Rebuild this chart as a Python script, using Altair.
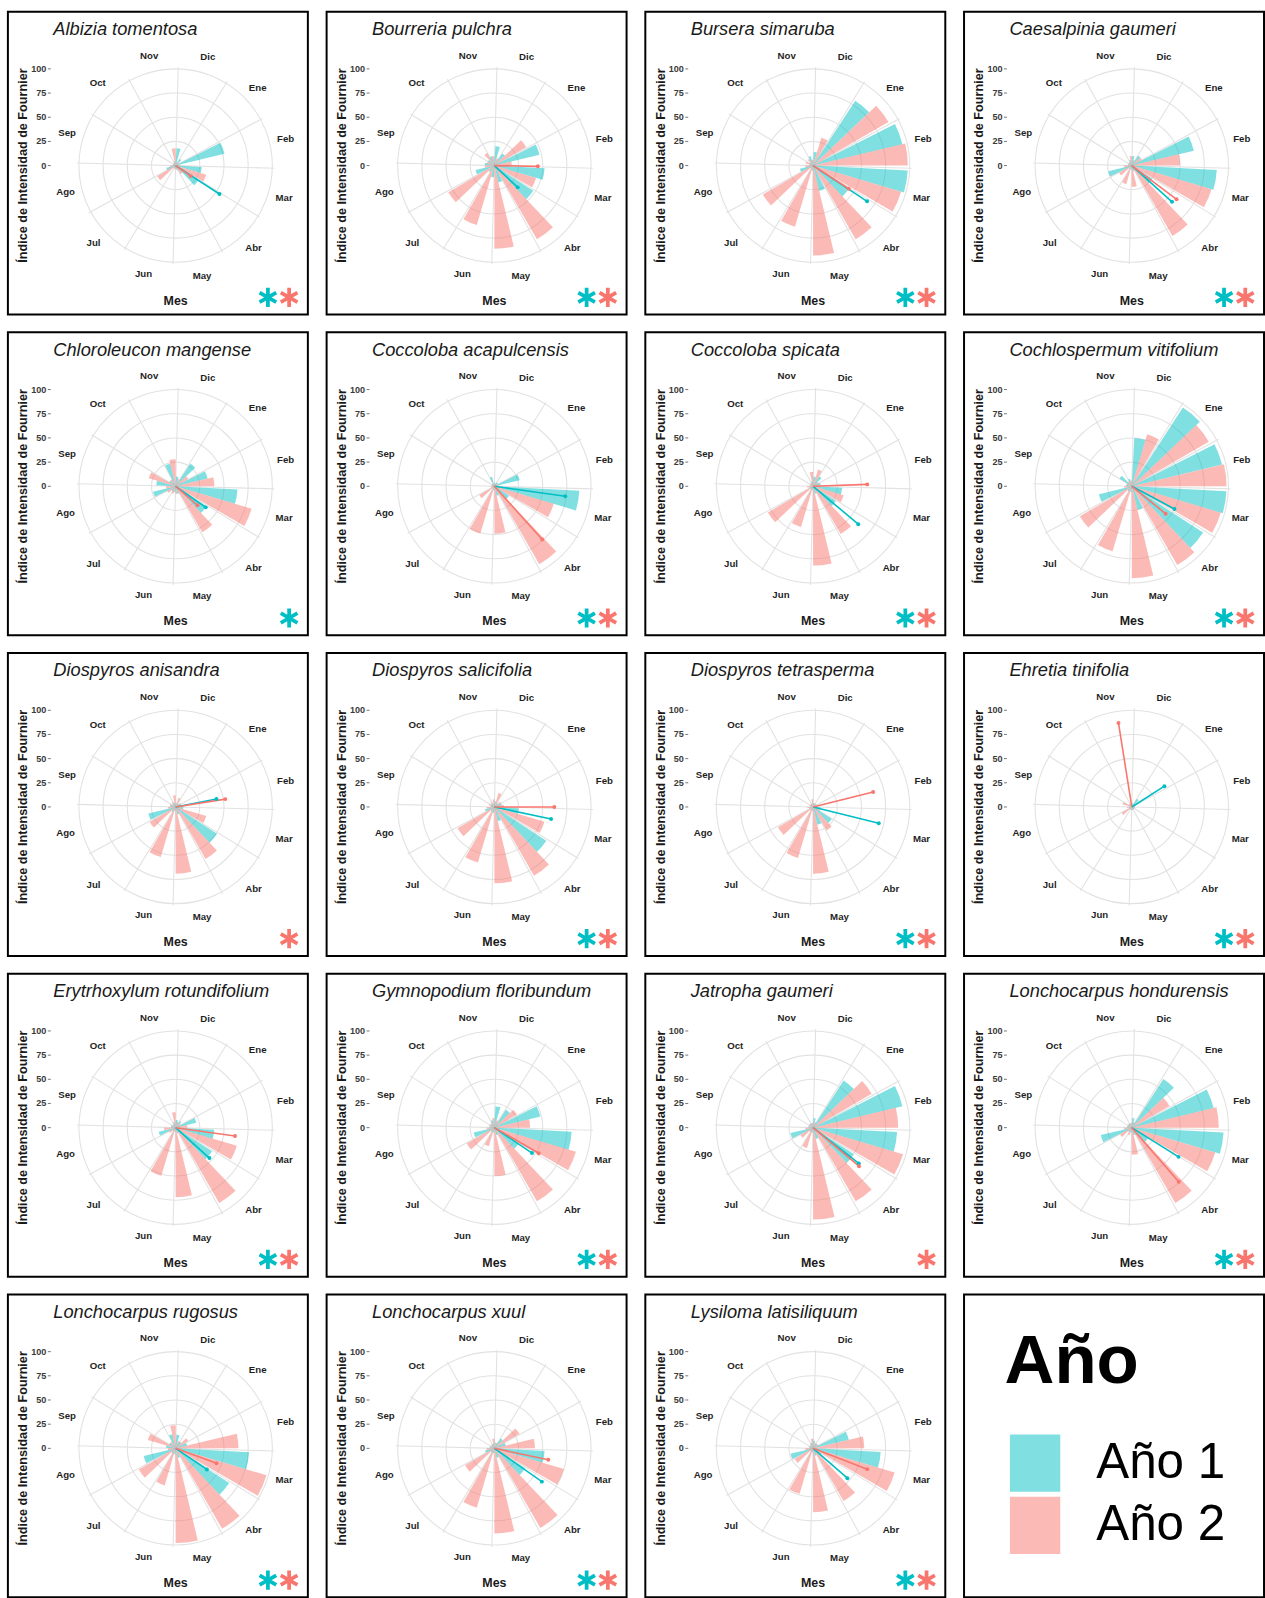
import math
import altair as alt
import pandas as pd

# ---------------- data ----------------
MESES = ["Ene", "Feb", "Mar", "Abr", "May", "Jun", "Jul", "Ago", "Sep", "Oct", "Nov", "Dic"]
ANIOS = ["Año 1", "Año 2"]
TICKS_RADIALES = [0, 25, 50, 75, 100]

ESPECIES = [
    "Albizia tomentosa", "Bourreria pulchra", "Bursera simaruba", "Caesalpinia gaumeri",
    "Chloroleucon mangense", "Coccoloba acapulcensis", "Coccoloba spicata", "Cochlospermum vitifolium",
    "Diospyros anisandra", "Diospyros salicifolia", "Diospyros tetrasperma", "Ehretia tinifolia",
    "Erytrhoxylum rotundifolium", "Gymnopodium floribundum", "Jatropha gaumeri", "Lonchocarpus hondurensis",
    "Lonchocarpus rugosus", "Lonchocarpus xuul", "Lysiloma latisiliquum",
]

# Fournier intensity index per month (Ene..Dic), year 1
FOURNIER_ANIO1 = [
    [8, 52, 27, 28, 5, 3, 3, 10, 3, 3, 5, 18],
    [15, 48, 52, 48, 18, 12, 8, 20, 10, 8, 10, 20],
    [80, 95, 98, 44, 27, 5, 4, 14, 4, 4, 10, 14],
    [12, 66, 88, 25, 6, 4, 4, 25, 4, 4, 6, 10],
    [28, 34, 64, 38, 8, 6, 6, 24, 20, 8, 24, 10],
    [5, 27, 88, 18, 10, 4, 3, 3, 3, 3, 10, 4],
    [12, 8, 30, 28, 8, 4, 4, 4, 3, 3, 5, 10],
    [97, 96, 98, 88, 25, 6, 6, 35, 6, 15, 8, 50],
    [4, 6, 8, 51, 8, 4, 6, 29, 6, 4, 5, 4],
    [5, 8, 25, 64, 15, 6, 5, 10, 4, 4, 4, 6],
    [4, 4, 8, 23, 19, 4, 4, 4, 3, 3, 3, 4],
    [10, 4, 3, 3, 3, 3, 3, 3, 3, 3, 3, 4],
    [8, 22, 40, 45, 6, 4, 4, 18, 5, 4, 6, 8],
    [22, 49, 80, 30, 8, 5, 5, 22, 5, 5, 8, 22],
    [58, 95, 87, 50, 12, 5, 5, 24, 5, 5, 5, 10],
    [60, 87, 95, 20, 8, 5, 5, 33, 5, 5, 5, 10],
    [8, 12, 76, 66, 10, 6, 6, 34, 10, 8, 15, 14],
    [12, 12, 52, 38, 10, 5, 5, 10, 5, 4, 5, 6],
    [6, 38, 70, 10, 8, 4, 4, 24, 4, 4, 6, 8],
]

# Fournier intensity index per month (Ene..Dic), year 2
FOURNIER_ANIO2 = [
    [4, 5, 33, 10, 4, 4, 22, 6, 3, 3, 18, 4],
    [38, 18, 45, 88, 86, 64, 55, 10, 8, 15, 10, 8],
    [90, 98, 95, 88, 93, 66, 60, 8, 8, 8, 6, 30],
    [12, 50, 86, 84, 22, 20, 15, 8, 4, 4, 10, 6],
    [15, 40, 82, 55, 8, 8, 10, 10, 29, 8, 28, 8],
    [4, 5, 64, 93, 49, 51, 18, 4, 3, 3, 3, 3],
    [6, 8, 33, 57, 82, 44, 54, 6, 4, 4, 15, 18],
    [92, 98, 96, 94, 95, 70, 62, 8, 6, 6, 6, 56],
    [6, 8, 33, 62, 69, 54, 31, 8, 6, 6, 12, 10],
    [8, 10, 54, 82, 79, 60, 44, 8, 6, 6, 8, 15],
    [4, 4, 8, 28, 69, 55, 42, 6, 4, 4, 8, 4],
    [3, 3, 3, 3, 3, 3, 12, 5, 10, 4, 4, 3],
    [6, 12, 66, 90, 72, 52, 8, 12, 5, 4, 16, 6],
    [27, 37, 88, 88, 50, 20, 33, 8, 6, 6, 10, 8],
    [70, 88, 97, 88, 95, 22, 15, 8, 5, 5, 5, 6],
    [45, 90, 90, 90, 28, 8, 14, 8, 5, 5, 5, 6],
    [15, 65, 98, 96, 98, 40, 44, 8, 30, 8, 24, 8],
    [30, 42, 75, 95, 88, 64, 35, 8, 5, 5, 10, 6],
    [6, 53, 88, 63, 66, 49, 22, 8, 5, 5, 10, 6],
]

# mean vectors (angle in degrees clockwise from top, magnitude in index units)
VECTOR_ANGULO_ANIO1 = [123, 133, 123.5, 132, 125, 98, 130, 118, 79, 102, 104, 57.5,
                       132, 124, 128, 122, 124, 125, 131]
VECTOR_MAGNITUD_ANIO1 = [54, 33, 67, 56, 38, 74, 61, 50, 43, 60, 70, 40,
                         47, 47, 60, 57, 39, 60, 47]
VECTOR_ANGULO_ANIO2 = [125, 91, 123, 127, 131, 138, 88, 129, 81, 90, 76, 351,
                       98, 120, 130, 139, 110, 102, 111]
VECTOR_MAGNITUD_ANIO2 = [19, 45, 44, 58, 30, 74, 56, 45, 52, 62, 64, 88,
                         62, 53, 62, 74, 45, 57, 60]

# years with a significant mean vector (asterisks)
SIGNIFICATIVO = [
    ["Año 1", "Año 2"], ["Año 1", "Año 2"], ["Año 1", "Año 2"], ["Año 1", "Año 2"],
    ["Año 1"], ["Año 1", "Año 2"], ["Año 1", "Año 2"], ["Año 1", "Año 2"],
    ["Año 2"], ["Año 1", "Año 2"], ["Año 1", "Año 2"], ["Año 1", "Año 2"],
    ["Año 1", "Año 2"], ["Año 1", "Año 2"], ["Año 2"], ["Año 1", "Año 2"],
    ["Año 1", "Año 2"], ["Año 1", "Año 2"], ["Año 1", "Año 2"],
]

# ---------------- geometry / style ----------------
FONT = "Liberation Sans"
PX = 0.98                 # pixels per index unit
W, H = 304, 307           # panel size
CX, CY = 170, 156         # polar centre inside the panel (px)
GRID = "#E2E2E2"
OFFSET = 46.5             # centre angle of Ene (deg)
BAR_W = 13.5              # angular width of one bar (deg)
LABEL_R = 117             # radius of month labels (index units)


def U(px):
    return px / PX


xs = alt.Scale(domain=[-U(CX), U(W - CX)], nice=False, zero=False)
ys = alt.Scale(domain=[-U(H - CY), U(CY)], nice=False, zero=False)
ts = alt.Scale(domain=[0, 360], range=[0, 2 * math.pi])
rs = alt.Scale(type="linear", domain=[0, 100], range=[0, 100 * PX], zero=True, nice=False)
cs = alt.Scale(domain=ANIOS, range=["#00BFC4", "#F8766D"])

LEG = alt.Legend(title="Año", symbolType="M-0.88,-1H0.88V1H-0.88Z", symbolOpacity=0.5)


def xf(name):
    return alt.X(f"{name}:Q", scale=xs, axis=None)


def yf(name):
    return alt.Y(f"{name}:Q", scale=ys, axis=None)


COL = alt.Color("anio:N", scale=cs, legend=LEG)
ASTER = "M0,-1L0,1M-0.866,-0.5L0.866,0.5M-0.866,0.5L0.866,-0.5"


def panel(k):
    sp = ESPECIES[k]
    meses_df = pd.DataFrame({"mes": MESES, "i": list(range(12))})

    rings = alt.Chart(pd.DataFrame({"r": TICKS_RADIALES[1:]})).transform_calculate(
        o="0").mark_arc(
        filled=False, color=GRID, strokeWidth=1.1, theta=0, theta2=2 * math.pi
    ).encode(x=xf("o"), y=yf("o"), radius=alt.Radius("r:Q", scale=rs, stack=None))

    spokes = alt.Chart(meses_df).transform_calculate(
        o="0",
        a=f"({OFFSET - 15} + 30*datum.i) * PI / 180",
        sx="102*sin(datum.a)", sy="102*cos(datum.a)",
    ).mark_rule(color=GRID, strokeWidth=1.1).encode(
        x=xf("o"), y=yf("o"), x2="sx:Q", y2="sy:Q")

    bars_df = pd.DataFrame({
        "mes": MESES * 2,
        "i": list(range(12)) * 2,
        "anio": [ANIOS[0]] * 12 + [ANIOS[1]] * 12,
        "valor": FOURNIER_ANIO1[k] + FOURNIER_ANIO2[k],
    })
    bars = alt.Chart(bars_df).transform_calculate(
        o="0",
        c=f"({OFFSET} + 30*datum.i) % 360",
        t0=f"datum.anio == 'Año 1' ? datum.c - {BAR_W} : datum.c",
        t1=f"datum.t0 + {BAR_W}",
    ).mark_arc(opacity=0.5).encode(
        x=xf("o"), y=yf("o"),
        theta=alt.Theta("t0:Q", scale=ts, stack=None),
        theta2="t1:Q",
        radius=alt.Radius("valor:Q", scale=rs, stack=None),
        color=COL,
    )

    vec_df = pd.DataFrame({
        "anio": ANIOS,
        "ang": [VECTOR_ANGULO_ANIO1[k], VECTOR_ANGULO_ANIO2[k]],
        "mag": [VECTOR_MAGNITUD_ANIO1[k], VECTOR_MAGNITUD_ANIO2[k]],
    })
    vec_base = alt.Chart(vec_df).transform_calculate(
        o="0",
        vx="datum.mag*sin(datum.ang*PI/180)", vy="datum.mag*cos(datum.ang*PI/180)")
    vec_line = vec_base.mark_rule(strokeWidth=1.6).encode(
        x=xf("o"), y=yf("o"), x2="vx:Q", y2="vy:Q", color=COL)
    vec_tip = vec_base.mark_point(filled=True, size=16, opacity=1).encode(
        x=xf("vx"), y=yf("vy"), color=COL)

    labels = alt.Chart(meses_df).transform_calculate(
        a=f"(({OFFSET} + 30*datum.i) % 360) * PI / 180",
        lx=f"{LABEL_R}*sin(datum.a)", ly=f"{LABEL_R}*cos(datum.a)",
    ).mark_text(font=FONT, fontSize=9.8, fontWeight="bold", color="#1f1f1f").encode(
        x=xf("lx"), y=yf("ly"), text="mes:N")

    ticks_df = pd.DataFrame({"v": TICKS_RADIALES})
    tick_txt = alt.Chart(ticks_df).transform_calculate(
        tx=f"{U(-131)}").mark_text(
        font=FONT, fontSize=9.2, fontWeight="bold", color="#3a3a3a", align="right", baseline="middle"
    ).encode(x=xf("tx"), y=yf("v"), text=alt.Text("v:Q"))
    tick_mk = alt.Chart(ticks_df).transform_calculate(
        tx0=f"{U(-129.5)}", tx1=f"{U(-126.5)}").mark_rule(
        color="#555555", strokeWidth=0.8).encode(
        x=xf("tx0"), x2="tx1:Q", y=yf("v"))

    title = alt.Chart(pd.DataFrame({"t": [sp]})).transform_calculate(
        px=f"{U(46 - CX)}", py=f"{U(CY - 17.5)}").mark_text(
        font=FONT, fontSize=18.5, fontStyle="italic", color="#1a1a1a", align="left", baseline="middle"
    ).encode(x=xf("px"), y=yf("py"), text="t:N")
    ytitle = alt.Chart(pd.DataFrame({"t": ["Índice de Intensidad de Fournier"]})).transform_calculate(
        px=f"{U(15.7 - CX)}", py="0").mark_text(
        font=FONT, fontSize=12.8, fontWeight="bold", color="#1a1a1a", angle=270, baseline="middle"
    ).encode(x=xf("px"), y=yf("py"), text="t:N")
    xtitle = alt.Chart(pd.DataFrame({"t": ["Mes"]})).transform_calculate(
        px="0", py=f"{U(CY - 293)}").mark_text(
        font=FONT, fontSize=12.6, fontWeight="bold", color="#1a1a1a", baseline="middle"
    ).encode(x=xf("px"), y=yf("py"), text="t:N")

    sig = SIGNIFICATIVO[k]
    n = len(sig)
    ast_df = pd.DataFrame({"anio": sig, "slot": [n - 1 - j for j in range(n)]})
    aster = alt.Chart(ast_df).transform_calculate(
        ax=f"{U(285 - CX)} - {U(21.5)} * datum.slot", ay=f"{U(CY - 289.5)}"
    ).mark_point(
        shape=ASTER, filled=False, size=380, strokeWidth=3.8, opacity=1
    ).encode(x=xf("ax"), y=yf("ay"), color=COL)

    return alt.layer(rings, spokes, bars, vec_line, vec_tip, labels, tick_mk, tick_txt,
                     title, ytitle, xtitle, aster).properties(width=W, height=H)


cells = [panel(k) for k in range(len(ESPECIES))]
cells.append(alt.Chart(pd.DataFrame({"a": [0.0]})).mark_point(opacity=0).encode(
    x=xf("a"), y=yf("a")).properties(width=W, height=H))

chart = alt.concat(*cells, columns=4, spacing={"row": 16, "column": 17}).properties(
    padding={"left": 7, "top": 0, "right": 0, "bottom": 0}
).configure_view(stroke="black", strokeWidth=2).configure_legend(
    orient="none", legendX=1010, legendY=1335, padding=0,
    titleFont=FONT, titleFontSize=70, titleFontWeight="bold", titleColor="black", titlePadding=37,
    labelFont=FONT, labelFontSize=50, labelColor="black", labelOffset=33,
    symbolSize=3364, symbolStrokeWidth=0, symbolOffset=2, rowPadding=5,
)

chart.save("out.html", embed_options={"renderer": "svg", "actions": False})
